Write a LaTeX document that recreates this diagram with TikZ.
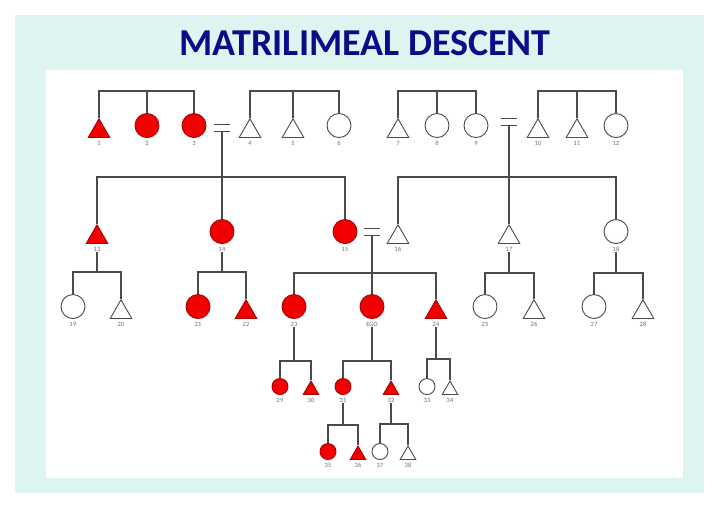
\documentclass[tikz,border=0pt]{standalone}
\usepackage{fontspec}
\setmainfont{Carlito}
\usepackage{xcolor}
\usetikzlibrary{shapes.geometric}
\definecolor{panel}{HTML}{DDF4F0}
\definecolor{titleblue}{HTML}{0C0C88}
\definecolor{kinred}{HTML}{F20000}
\definecolor{kinline}{HTML}{4A4A4A}

\begin{document}
\begin{tikzpicture}[
    x=1pt,y=-1pt,
    label distance=2.5pt,
    link/.style={draw=kinline,line width=1.1pt},
    lbl/.style={font=\fontsize{6.5}{7}\selectfont,text=kinline!80,inner sep=0.5pt},
    fem/.style={circle,draw=kinline,line width=0.9pt,fill=white,minimum size=24pt,inner sep=0pt,anchor=south},
    mal/.style={regular polygon,regular polygon sides=3,draw=kinline,line width=0.9pt,fill=white,minimum size=25pt,inner sep=0pt,anchor=south},
    sfem/.style={fem,minimum size=16pt},
    smal/.style={mal,minimum size=18pt},
    kin/.style={fill=kinred,draw=kinred!70!black},
    marr/.style={minimum width=15pt,minimum height=6pt,inner sep=0pt},
    title/.style={font=\fontsize{38}{42}\selectfont\bfseries,text=titleblue}
]
    \useasboundingbox (0,0) rectangle (720,510);
    \fill[panel] (15,15) rectangle (704,493);
    \fill[white] (46,70) rectangle (683,478);
    \node[title] (title) at (365,43) {MATRILIMEAL DESCENT};

    % generation 1
    \node[mal,kin,label={[lbl]below:1}] (n1) at (99,138) {};
    \node[fem,kin,label={[lbl]below:2}] (n2) at (147,138) {};
    \node[fem,kin,label={[lbl]below:3}] (n3) at (194,138) {};
    \node[mal,label={[lbl]below:4}] (n4) at (250,138) {};
    \node[mal,label={[lbl]below:5}] (n5) at (293,138) {};
    \node[fem,label={[lbl]below:6}] (n6) at (339,138) {};
    \node[mal,label={[lbl]below:7}] (n7) at (398,138) {};
    \node[fem,label={[lbl]below:8}] (n8) at (437,138) {};
    \node[fem,label={[lbl]below:9}] (n9) at (476,138) {};
    \node[mal,label={[lbl]below:10}] (n10) at (538,138) {};
    \node[mal,label={[lbl]below:11}] (n11) at (577,138) {};
    \node[fem,label={[lbl]below:12}] (n12) at (616,138) {};
    \node[marr] (m1) at (222,128) {};
    \node[marr] (m2) at (509,122) {};

    % generation 2
    \node[mal,kin,label={[lbl,name=l13]below:13}] (n13) at (97,244) {};
    \node[fem,kin,label={[lbl,name=l14]below:14}] (n14) at (222,244) {};
    \node[fem,kin,label={[lbl]below:15}] (n15) at (345,244) {};
    \node[mal,label={[lbl]below:16}] (n16) at (398,244) {};
    \node[mal,label={[lbl,name=l17]below:17}] (n17) at (509,244) {};
    \node[fem,label={[lbl,name=l18]below:18}] (n18) at (616,244) {};
    \node[marr] (m3) at (372,232) {};

    % generation 3
    \node[fem,label={[lbl]below:19}] (n19) at (73,319) {};
    \node[mal,label={[lbl]below:20}] (n20) at (121,319) {};
    \node[fem,kin,label={[lbl]below:21}] (n21) at (198,319) {};
    \node[mal,kin,label={[lbl]below:22}] (n22) at (246,319) {};
    \node[fem,kin,label={[lbl,name=l23]below:23}] (n23) at (294,319) {};
    \node[fem,kin,label={[lbl,name=lego]below:EGO}] (ego) at (372,319) {};
    \node[mal,kin,label={[lbl,name=l24]below:24}] (n24) at (436,319) {};
    \node[fem,label={[lbl]below:25}] (n25) at (485,319) {};
    \node[mal,label={[lbl]below:26}] (n26) at (534,319) {};
    \node[fem,label={[lbl]below:27}] (n27) at (594,319) {};
    \node[mal,label={[lbl]below:28}] (n28) at (643,319) {};

    % generation 4
    \node[sfem,kin,label={[lbl]below:29}] (n29) at (280,395) {};
    \node[smal,kin,label={[lbl]below:30}] (n30) at (311,395) {};
    \node[sfem,kin,label={[lbl,name=l31]below:31}] (n31) at (343,395) {};
    \node[smal,kin,label={[lbl,name=l32]below:32}] (n32) at (391,395) {};
    \node[sfem,label={[lbl]below:33}] (n33) at (427,395) {};
    \node[smal,label={[lbl]below:34}] (n34) at (450,395) {};

    % generation 5
    \node[sfem,kin,label={[lbl]below:35}] (n35) at (328,460) {};
    \node[smal,kin,label={[lbl]below:36}] (n36) at (358,460) {};
    \node[sfem,label={[lbl]below:37}] (n37) at (380,460) {};
    \node[smal,label={[lbl]below:38}] (n38) at (408,460) {};

    % sibling bars
    \coordinate (topA) at (147,91);
    \coordinate (topB) at (293,91);
    \coordinate (topC) at (437,91);
    \coordinate (topD) at (577,91);
    \coordinate (b14) at (222,177);
    \coordinate (b17) at (509,177);
    \coordinate (c13) at (97,272);
    \coordinate (c14) at (222,272);
    \coordinate (c15) at (372,273);
    \coordinate (c17) at (509,273);
    \coordinate (c18) at (616,273);
    \coordinate (d23) at (294,361);
    \coordinate (dego) at (372,361);
    \coordinate (d24) at (436,359);
    \coordinate (e31) at (343,425);
    \coordinate (e32) at (391,424);

    \draw[link] (n1.north) |- (topA) -| (n3.north);
    \draw[link] (n2.north) -- (topA);
    \draw[link] (n4.north) |- (topB) -| (n6.north);
    \draw[link] (n5.north) -- (topB);
    \draw[link] (n7.north) |- (topC) -| (n9.north);
    \draw[link] (n8.north) -- (topC);
    \draw[link] (n10.north) |- (topD) -| (n12.north);
    \draw[link] (n11.north) -- (topD);

    % marriages
    \foreach \m in {m1,m2,m3}
        \draw[link] (\m.north west) -- (\m.north east) (\m.south west) -- (\m.south east);

    \draw[link] (m1.south) -- (n14.north);
    \draw[link] (n13.north) |- (b14) -| (n15.north);
    \draw[link] (m2.south) -- (n17.north);
    \draw[link] (n16.north) |- (b17) -| (n18.north);

    \draw[link] (l13.south) -- (c13);
    \draw[link] (n19.north) |- (c13) -| (n20.north);
    \draw[link] (l14.south) -- (c14);
    \draw[link] (n21.north) |- (c14) -| (n22.north);
    \draw[link] (m3.south) -- (ego.north);
    \draw[link] (n23.north) |- (c15) -| (n24.north);
    \draw[link] (l17.south) -- (c17);
    \draw[link] (n25.north) |- (c17) -| (n26.north);
    \draw[link] (l18.south) -- (c18);
    \draw[link] (n27.north) |- (c18) -| (n28.north);

    \draw[link] (l23.south) -- (d23);
    \draw[link] (n29.north) |- (d23) -| (n30.north);
    \draw[link] (lego.south) -- (dego);
    \draw[link] (n31.north) |- (dego) -| (n32.north);
    \draw[link] (l24.south) -- (d24);
    \draw[link] (n33.north) |- (d24) -| (n34.north);

    \draw[link] (l31.south) -- (e31);
    \draw[link] (n35.north) |- (e31) -| (n36.north);
    \draw[link] (l32.south) -- (e32);
    \draw[link] (n37.north) |- (e32) -| (n38.north);
\end{tikzpicture}
\end{document}
